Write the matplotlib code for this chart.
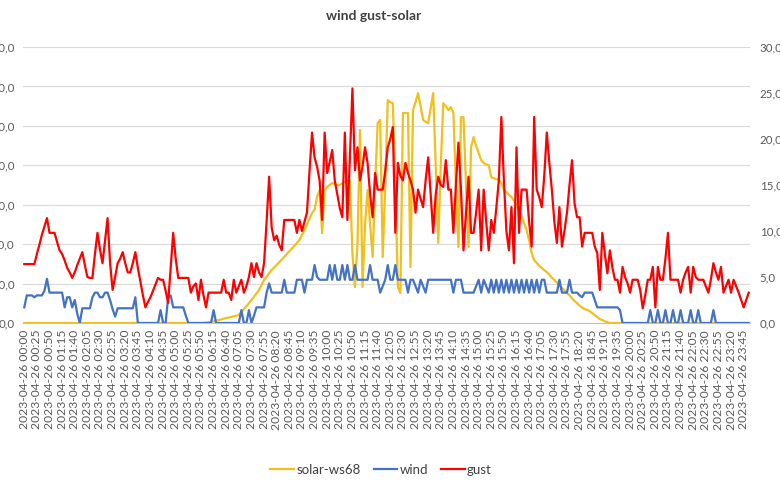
import matplotlib
matplotlib.use("Agg")
import matplotlib.pyplot as plt
import pandas as pd
from matplotlib.ticker import FuncFormatter

plt.rcParams['font.family'] = ['Lato', 'DejaVu Sans']

times = pd.date_range("2023-04-26 00:00", periods=288, freq="5min")
categories = [t.strftime("%Y-%m-%d %H:%M") for t in times]

solar = [
    0, 0, 0, 0, 0, 0, 0, 0, 0, 0,
    0, 0, 0, 0, 0, 0, 0, 0, 0, 0,
    0, 0, 0, 0, 0, 0, 0, 0, 0, 0,
    0, 0, 0, 0, 0, 0, 0, 0, 0, 0,
    0, 0, 0, 0, 0, 0, 0, 0, 0, 0,
    0, 0, 0, 0, 0, 0, 0, 0, 0, 0,
    0, 0, 0, 0, 0, 0, 0, 0, 0, 0,
    0, 0, 2, 4, 6, 8, 12, 15, 18, 22,
    25, 28, 31, 34, 37, 40, 55, 70, 85, 100,
    117, 133, 150, 167, 192, 218, 235, 252, 269, 282,
    295, 308, 322, 335, 350, 364, 378, 392, 406, 421,
    446, 472, 500, 530, 558, 575, 640, 674, 456, 674,
    690, 700, 710, 705, 700, 700, 710, 715, 720, 725,
    355, 183, 400, 979, 183, 500, 674, 500, 335, 700,
    1014, 1030, 335, 700, 1131, 1120, 1115, 700, 183, 152,
    1065, 1065, 1065, 284, 1080, 1120, 1166, 1100, 1030, 1020,
    1014, 1090, 1166, 800, 406, 800, 1115, 1100, 1080, 1095,
    1065, 700, 385, 1044, 1044, 700, 385, 892, 943, 900,
    862, 826, 811, 805, 800, 740, 735, 730, 725, 710,
    674, 665, 650, 639, 620, 600, 570, 540, 507, 470,
    420, 355, 319, 305, 290, 280, 268, 258, 245, 230,
    218, 205, 190, 178, 165, 152, 140, 125, 112, 100,
    88, 78, 70, 66, 60, 50, 40, 30, 20, 15,
    8, 4, 0, 0, 0, 0, 0, 0, 0, 0,
    0, 0, 0, 0, 0, 0, 0, 0, 0, 0,
    0, 0, 0, 0, 0, 0, 0, 0, 0, 0,
    0, 0, 0, 0, 0, 0, 0, 0, 0, 0,
    0, 0, 0, 0, 0, 0, 0, 0, 0, 0,
    0, 0, 0, 0, 0, 0, 0, 0,
]

wind = [
    1.7, 3.0, 3.0, 3.0, 2.8, 3.0, 3.0, 3.0, 3.5, 4.8,
    3.3, 3.3, 3.3, 3.3, 3.3, 3.3, 1.7, 2.8, 2.8, 1.7,
    2.5, 1.0, 0.0, 1.6, 1.6, 1.6, 1.6, 2.8, 3.3, 3.3,
    2.8, 2.8, 3.3, 3.3, 2.5, 1.5, 0.7, 1.6, 1.6, 1.6,
    1.6, 1.6, 1.6, 1.6, 2.8, 0.0, 0.0, 0.0, 0.0, 0.0,
    0.0, 0.0, 0.0, 0.0, 1.4, 0.0, 0.0, 2.8, 3.0, 1.7,
    1.7, 1.7, 1.7, 1.7, 0.8, 0.0, 0.0, 0.0, 0.0, 0.0,
    0.0, 0.0, 0.0, 0.0, 0.0, 1.4, 0.0, 0.0, 0.0, 0.0,
    0.0, 0.0, 0.0, 0.0, 0.0, 0.0, 1.4, 0.0, 0.0, 1.4,
    0.0, 0.8, 1.7, 1.7, 1.7, 1.7, 3.3, 4.3, 3.3, 3.3,
    3.3, 3.3, 3.3, 4.7, 3.3, 3.3, 3.3, 3.3, 4.7, 4.7,
    4.7, 3.3, 4.7, 4.7, 4.7, 6.3, 5.0, 4.7, 4.7, 4.7,
    4.7, 6.3, 4.7, 6.3, 4.7, 4.7, 6.3, 4.7, 6.3, 4.7,
    4.7, 6.3, 4.7, 4.7, 4.7, 4.7, 4.7, 6.3, 4.7, 4.7,
    4.7, 3.3, 4.0, 4.7, 6.3, 4.7, 4.7, 6.3, 4.7, 4.7,
    4.7, 4.7, 3.3, 4.7, 4.7, 4.0, 3.3, 4.7, 4.0, 3.3,
    4.7, 4.7, 4.7, 4.7, 4.7, 4.7, 4.7, 4.7, 4.7, 4.7,
    3.3, 4.7, 4.7, 4.7, 3.3, 3.3, 3.3, 3.3, 3.3, 4.0,
    4.7, 3.3, 4.7, 4.0, 3.3, 4.7, 3.3, 4.7, 3.3, 4.7,
    3.3, 4.7, 3.3, 4.7, 3.3, 4.7, 3.3, 4.7, 3.3, 4.7,
    3.3, 4.7, 3.3, 4.7, 3.3, 4.7, 4.7, 3.3, 3.3, 3.3,
    3.3, 3.3, 4.7, 3.3, 3.3, 3.3, 4.7, 3.3, 3.3, 3.3,
    3.0, 2.8, 3.3, 3.3, 3.3, 3.3, 2.5, 1.7, 1.7, 1.7,
    1.7, 1.7, 1.7, 1.7, 1.7, 1.7, 1.4, 0.0, 0.0, 0.0,
    0.0, 0.0, 0.0, 0.0, 0.0, 0.0, 0.0, 0.0, 1.4, 0.0,
    0.0, 1.4, 0.0, 0.0, 1.4, 0.0, 0.0, 1.4, 0.0, 0.0,
    1.4, 0.0, 0.0, 0.0, 1.4, 0.0, 0.0, 1.4, 0.0, 0.0,
    0.0, 0.0, 0.0, 1.4, 0.0, 0.0, 0.0, 0.0, 0.0, 0.0,
    0.0, 0.0, 0.0, 0.0, 0.0, 0.0, 0.0, 0.0,
]

gust = [
    6.4, 6.4, 6.4, 6.4, 6.4, 7.5, 8.5, 9.6, 10.5, 11.4,
    9.8, 9.8, 9.8, 8.8, 7.9, 7.5, 6.8, 6.0, 5.5, 4.9,
    5.5, 6.3, 7.0, 7.7, 6.3, 5.0, 4.9, 4.9, 7.5, 9.8,
    8.0, 6.5, 9.0, 11.4, 6.5, 3.6, 5.0, 6.5, 7.0, 7.7,
    6.5, 5.5, 5.5, 6.5, 7.7, 6.0, 4.5, 3.0, 1.7, 2.3,
    2.8, 3.5, 4.2, 4.9, 4.7, 4.7, 3.5, 2.2, 6.0, 9.8,
    7.0, 4.9, 4.9, 4.9, 4.9, 4.9, 3.3, 4.0, 4.3, 2.5,
    4.7, 3.0, 1.7, 3.3, 3.3, 3.3, 3.3, 3.3, 3.3, 4.7,
    3.3, 3.3, 2.5, 4.7, 3.3, 4.0, 4.7, 3.3, 4.0, 5.0,
    6.5, 5.0, 6.5, 5.5, 5.0, 6.5, 11.0, 15.9, 10.4, 9.0,
    9.5, 8.5, 7.9, 11.2, 11.2, 11.2, 11.2, 11.2, 9.8, 11.2,
    10.0, 11.0, 12.0, 16.5, 20.7, 18.0, 17.0, 15.5, 11.2, 20.7,
    16.3, 17.5, 18.8, 15.5, 14.0, 12.5, 11.5, 20.7, 11.2, 18.0,
    25.5, 16.6, 19.1, 15.5, 17.0, 19.1, 17.4, 14.0, 11.5, 16.3,
    14.5, 14.5, 14.5, 16.5, 19.1, 20.0, 21.3, 9.8, 17.4, 16.0,
    15.5, 17.4, 16.3, 15.5, 14.5, 12.0, 14.5, 13.5, 12.6, 15.5,
    18.0, 14.0, 9.8, 14.0, 15.9, 15.0, 14.8, 17.7, 14.5, 14.5,
    9.8, 15.0, 19.6, 14.5, 7.9, 12.0, 15.9, 9.8, 9.8, 12.0,
    14.5, 7.9, 14.5, 11.0, 7.9, 11.2, 9.8, 12.5, 15.5, 22.4,
    15.5, 10.0, 7.9, 12.6, 6.5, 19.1, 9.8, 14.5, 14.5, 14.5,
    11.0, 8.3, 22.4, 14.5, 13.7, 12.6, 16.0, 20.7, 17.4, 14.5,
    11.0, 8.7, 12.6, 8.3, 10.0, 12.0, 15.0, 17.7, 13.0, 11.5,
    11.5, 8.3, 9.8, 9.8, 9.8, 9.8, 8.3, 7.6, 3.6, 9.8,
    7.5, 5.4, 7.9, 6.0, 4.7, 4.7, 3.3, 6.1, 5.0, 4.3,
    3.3, 4.7, 4.7, 4.7, 3.6, 1.6, 3.0, 4.7, 4.7, 6.1,
    1.7, 6.1, 4.7, 4.7, 7.0, 9.8, 4.7, 4.7, 4.7, 4.7,
    3.3, 4.7, 5.5, 6.1, 3.3, 6.1, 5.0, 4.7, 4.7, 4.7,
    4.0, 3.3, 4.7, 6.5, 5.5, 4.7, 6.1, 3.3, 4.0, 4.7,
    3.3, 4.7, 4.0, 3.3, 2.5, 1.7, 2.5, 3.3,
]

left_ticks = [0, 200, 400, 600, 800, 1000, 1200, 1400]
right_ticks = [0, 5, 10, 15, 20, 25, 30]
tick_step = 5

W, H = 780, 497
fig = plt.figure(figsize=(W / 100, H / 100), dpi=100)
x0, x1, y_top, y_bot = 23, 750, 47, 323
ax = fig.add_axes([x0 / W, 1 - y_bot / H, (x1 - x0) / W, (y_bot - y_top) / H])
ax2 = ax.twinx()

xs = list(range(len(categories)))
l1, = ax.plot(xs, solar, color="#F2BF1B", lw=1.6, label="solar-ws68", solid_joinstyle="round")
l2, = ax2.plot(xs, wind, color="#4472C4", lw=1.6, label="wind", solid_joinstyle="round")
l3, = ax2.plot(xs, gust, color="#FF0000", lw=1.6, label="gust", solid_joinstyle="round")

ax.set_xlim(-0.5, len(categories) - 0.5)
ax.set_ylim(left_ticks[0], left_ticks[-1])
ax2.set_ylim(right_ticks[0], right_ticks[-1])
ax.set_yticks(left_ticks)
ax2.set_yticks(right_ticks)
fmt = FuncFormatter(lambda v, p: f"{v:.1f}".replace(".", ","))
ax.yaxis.set_major_formatter(fmt)
ax2.yaxis.set_major_formatter(fmt)

ax.grid(axis="y", color="#D9D9D9", lw=0.8)
ax.set_axisbelow(True)

idx = list(range(0, len(categories), tick_step))
ax.set_xticks(idx)
ax.set_xticklabels([categories[i] for i in idx], rotation=90, fontsize=8.7, color="#595959")
ax.tick_params(axis="x", length=0, pad=5)
ax.tick_params(axis="y", length=0, pad=6, labelsize=8.3, labelcolor="#595959")
ax2.tick_params(axis="y", length=0, pad=7, labelsize=8.3, labelcolor="#595959")

for a in (ax, ax2):
    for s in ("top", "left", "right", "bottom"):
        a.spines[s].set_visible(False)
ax.spines["bottom"].set_visible(True)
ax.spines["bottom"].set_color("#BFBFBF")
ax.spines["bottom"].set_linewidth(0.8)

fig.text(374 / W, 1 - 16 / H, "wind gust-solar", ha="center", va="center",
         fontsize=10, fontweight="bold", color="#404040")

fig.legend(handles=[l1, l2, l3], loc="center", bbox_to_anchor=(381 / W, 1 - 470 / H),
           ncol=3, frameon=False, fontsize=9.5, handlelength=1.8, handletextpad=0.15,
           columnspacing=1.0, labelcolor="#404040")

fig.savefig("out.png", dpi=100)
